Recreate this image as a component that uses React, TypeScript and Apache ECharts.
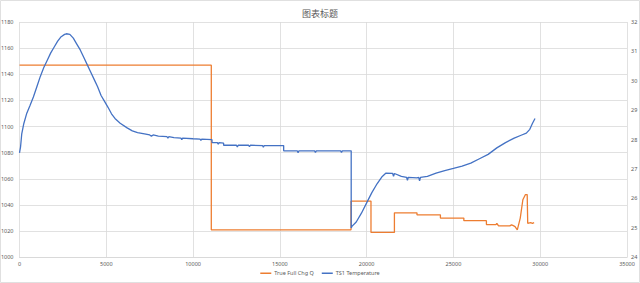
import React, { useEffect, useRef } from "react";
import * as echarts from "echarts";

const chartTitle = "图表标题";
const seriesNames = ["True Full Chg Q", "TS1 Temperature"];

// True Full Chg Q (left axis)
const chgX = [0, 11050, 11050, 19100, 19100, 20250, 20250, 21600, 21600, 22900, 22900, 24250, 24250, 25600, 25600, 26900, 26900, 27450, 27500, 27600, 28250, 28350, 28450, 28550, 28680, 28850, 29000, 29150, 29250, 29280, 29320, 29450, 29550, 29650];
const chgQ = [1147, 1147, 1021, 1021, 1043, 1043, 1019, 1019, 1034, 1034, 1032.5, 1032.5, 1030, 1030, 1028, 1028, 1025, 1025, 1026, 1024, 1024, 1024.8, 1024.2, 1023.5, 1021, 1030, 1044, 1048, 1048, 1026, 1026, 1026.5, 1026, 1026.5];

// TS1 Temperature (right axis)
const tempX = [0, 60, 130, 250, 420, 600, 800, 1000, 1200, 1400, 1600, 1800, 2000, 2200, 2400, 2600, 2700, 2900, 3100, 3300, 3500, 3700, 3900, 4100, 4300, 4500, 4700, 4900, 5100, 5300, 5500, 5800, 6200, 6500, 6800, 7200, 7500, 7600, 7700, 8000, 8500, 8550, 8600, 8900, 9300, 9350, 9400, 10000, 10400, 10450, 10500, 11090, 11090, 11400, 11450, 11500, 11760, 11760, 12500, 12550, 12600, 13200, 13250, 13300, 14000, 14050, 14100, 15220, 15220, 16000, 16050, 16100, 17000, 17050, 17100, 18500, 18550, 18600, 19110, 19110, 19150, 19400, 19700, 20000, 20300, 20600, 20900, 21100, 21500, 21550, 21600, 22000, 22300, 22350, 22400, 22900, 23000, 23050, 23100, 23500, 24000, 24500, 25000, 25500, 26000, 26500, 27000, 27500, 28000, 28500, 28900, 29200, 29400, 29550, 29700];
const tempT = [27.55, 27.75, 28.2, 28.55, 28.9, 29.15, 29.45, 29.8, 30.15, 30.45, 30.7, 30.95, 31.15, 31.35, 31.5, 31.58, 31.6, 31.58, 31.45, 31.25, 31.05, 30.8, 30.55, 30.3, 30.05, 29.8, 29.5, 29.3, 29.1, 28.88, 28.72, 28.56, 28.4, 28.3, 28.24, 28.2, 28.16, 28.12, 28.16, 28.12, 28.1, 28.05, 28.1, 28.07, 28.05, 28.0, 28.05, 28.03, 28.02, 27.97, 28.02, 28.0, 27.9, 27.9, 27.85, 27.9, 27.88, 27.81, 27.81, 27.75, 27.81, 27.81, 27.76, 27.81, 27.8, 27.74, 27.8, 27.8, 27.62, 27.62, 27.56, 27.62, 27.62, 27.57, 27.62, 27.62, 27.57, 27.62, 27.62, 25.0, 25.05, 25.2, 25.5, 25.85, 26.2, 26.5, 26.75, 26.86, 26.85, 26.75, 26.85, 26.75, 26.72, 26.62, 26.72, 26.7, 26.72, 26.6, 26.72, 26.75, 26.86, 26.95, 27.02, 27.1, 27.2, 27.35, 27.5, 27.72, 27.9, 28.05, 28.15, 28.22, 28.35, 28.55, 28.72];

const xTicks = { min: 0, max: 35000, interval: 5000 };
const leftTicks = { min: 1000, max: 1180, interval: 20 };
const rightTicks = { min: 24, max: 32, interval: 1 };

const FONT = "'Noto Sans', 'Noto Sans CJK SC', sans-serif";
const LABEL_COLOR = "#595959";
const GRID_COLOR = "#d9d9d9";
const plain = (v: number) => String(v);

export default function App() {
  const ref = useRef<HTMLDivElement>(null);
  useEffect(() => {
    document.body.style.margin = "0";
    if (!ref.current) return;
    const chart = echarts.init(ref.current, undefined, { renderer: "svg" });
    const chgData = chgX.map((x, i) => [x, chgQ[i]]);
    const tempData = tempX.map((x, i) => [x, tempT[i]]);
    chart.setOption({
      animation: false,
      backgroundColor: "#ffffff",
      textStyle: { fontFamily: FONT },
      title: {
        text: chartTitle,
        left: "center",
        top: 4,
        textStyle: { fontSize: 9, fontWeight: "normal", color: LABEL_COLOR, fontFamily: "'Noto Sans CJK SC', sans-serif" },
      },
      legend: {
        data: seriesNames.map((n) => ({ name: n, icon: "rect" })),
        bottom: 2,
        left: "center",
        itemWidth: 11,
        itemHeight: 1.5,
        itemGap: 8,
        textStyle: { fontSize: 5.5, color: LABEL_COLOR, padding: [0, 0, 0, -2] },
      },
      grid: { left: 19.5, right: 13, top: 22, bottom: 25.7, containLabel: false, outerBoundsMode: "none" },
      xAxis: {
        type: "value",
        ...xTicks,
        axisLine: { show: true, lineStyle: { color: GRID_COLOR } },
        axisTick: { show: false },
        splitLine: { show: true, lineStyle: { color: GRID_COLOR, width: 0.8 } },
        axisLabel: { fontSize: 5.5, color: LABEL_COLOR, margin: 4, formatter: plain },
      },
      yAxis: [
        {
          type: "value",
          ...leftTicks,
          axisLine: { show: false },
          axisTick: { show: false },
          splitLine: { show: true, lineStyle: { color: GRID_COLOR, width: 0.8 } },
          axisLabel: { fontSize: 5.5, color: LABEL_COLOR, margin: 6, formatter: plain },
        },
        {
          type: "value",
          ...rightTicks,
          position: "right",
          axisLine: { show: false },
          axisTick: { show: false },
          splitLine: { show: false },
          axisLabel: { fontSize: 5.5, color: LABEL_COLOR, margin: 4, formatter: plain },
        },
      ],
      series: [
        {
          name: seriesNames[0],
          type: "line",
          yAxisIndex: 0,
          data: chgData,
          showSymbol: false,
          symbol: "none",
          lineStyle: { color: "#ED7D31", width: 1.3 },
          itemStyle: { color: "#ED7D31" },
          z: 2,
        },
        {
          name: seriesNames[1],
          type: "line",
          yAxisIndex: 1,
          data: tempData,
          showSymbol: false,
          symbol: "none",
          lineStyle: { color: "#4472C4", width: 1.3 },
          itemStyle: { color: "#4472C4" },
          z: 3,
        },
      ],
      graphic: [
        {
          type: "rect",
          shape: { x: 0.5, y: 0.5, width: 639, height: 282 },
          style: { fill: "none", stroke: "#e0e0e0", lineWidth: 1 },
          silent: true,
        },
      ],
    });
    return () => chart.dispose();
  }, []);
  return <div ref={ref} style={{ width: 640, height: 283 }} />;
}
